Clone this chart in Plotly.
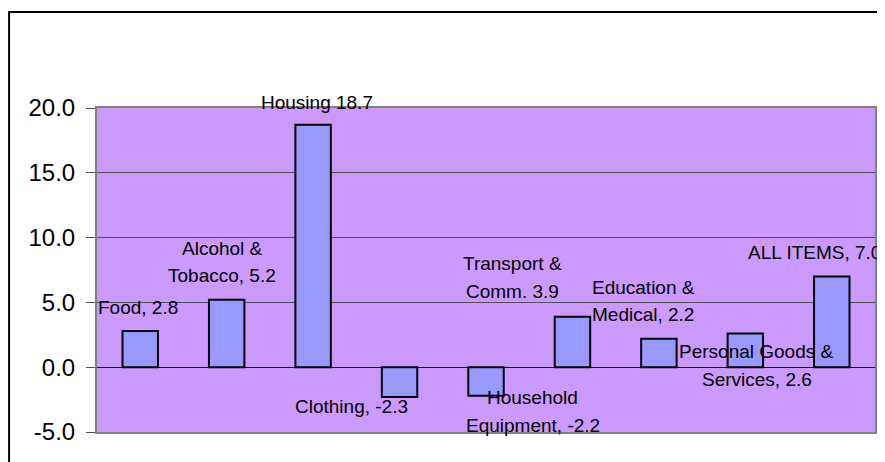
import plotly.graph_objects as go

categories = ["Food", "Alcohol & Tobacco", "Housing", "Clothing", "Household Equipment",
              "Transport & Comm.", "Education & Medical", "Personal Goods & Services", "ALL ITEMS"]
values = [2.8, 5.2, 18.7, -2.3, -2.2, 3.9, 2.2, 2.6, 7.0]
tick_vals = [-5, 0, 5, 10, 15, 20]
tick_text = ["%.1f" % v for v in tick_vals]

# label text lines per category
label_lines = [
    ["Food, 2.8"],
    ["Alcohol &", "Tobacco, 5.2"],
    ["Housing 18.7"],
    ["Clothing, -2.3"],
    ["Household", "Equipment, -2.2"],
    ["Transport &", "Comm. 3.9"],
    ["Education &", "Medical, 2.2"],
    ["Personal Goods &", "Services, 2.6"],
    ["ALL ITEMS, 7.0"],
]
# placement of labels (category offset, line y positions in axis units)
label_x = [-0.02, 0.95, 2.04, 2.44, 4.54, 4.31, 5.82, 7.13, 7.80]
label_y = [[4.6], [9.18, 7.1], [20.45], [-3.06], [-2.37, -4.48], [8.0, 5.86],
           [6.15, 4.09], [1.18, -0.93], [8.82]]

y_min, y_max = -5, 20
x_idx = list(range(len(categories)))

fig = go.Figure()
fig.add_trace(go.Bar(
    x=x_idx, y=values,
    marker=dict(color="#9999FF", line=dict(color="black", width=2)),
    width=0.41,
    hovertext=categories,
))

annotations = []
for i, lines in enumerate(label_lines):
    for j, line in enumerate(lines):
        annotations.append(dict(
            x=label_x[i], xref="x",
            y=(label_y[i][j] - y_min) / (y_max - y_min), yref="paper",
            text=line, showarrow=False,
            font=dict(family="Liberation Sans, Arial, sans-serif", size=19, color="black"),
            xanchor="center", yanchor="middle",
        ))

fig.update_layout(
    width=877, height=454,
    margin=dict(l=89, r=10, t=100, b=30, autoexpand=False),
    paper_bgcolor="white",
    plot_bgcolor="#CC99FF",
    showlegend=False,
    annotations=annotations,
    shapes=[dict(type="rect", xref="paper", yref="paper",
                 x0=-0.113, x1=1.03, y0=-0.2, y1=1.296,
                 line=dict(color="black", width=2), layer="below")],
    xaxis=dict(range=[-0.5, 8.5], showticklabels=False, showgrid=False,
               zeroline=False, showline=True, linecolor="#808080", linewidth=2,
               mirror=True, ticks="", automargin=False),
    yaxis=dict(range=[y_min, y_max], tickvals=tick_vals, ticktext=tick_text,
               tickfont=dict(family="Liberation Sans, Arial, sans-serif", size=24, color="black"),
               ticks="outside", ticklen=9, tickcolor="#505050", tickwidth=1,
               ticklabelstandoff=6, automargin=False,
               showgrid=True, gridcolor="#505050", gridwidth=1,
               zeroline=True, zerolinecolor="black", zerolinewidth=1,
               showline=True, linecolor="#808080", linewidth=2, mirror=True),
)

fig.write_html("out.html")
